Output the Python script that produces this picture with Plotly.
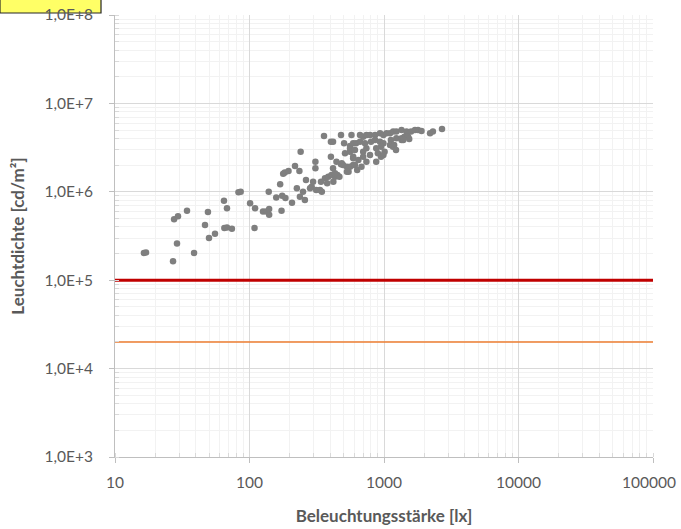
import plotly.graph_objects as go

# measured points: illuminance [lx] and luminance [cd/m²]
lux = [16.4, 17.0, 27, 28.9, 27.5, 29.4, 34.3, 38.7, 46.7, 49.1,
       50, 55.4, 64.6, 68, 65, 68, 74, 82.8, 86, 101,
       110, 109, 126, 133, 140, 140, 139, 158, 169, 173,
       175, 185, 178, 183, 195, 218, 207, 225, 235, 240,
       250, 258, 237, 263, 297, 290, 282, 313, 334, 345,
       340, 364, 385, 407, 432, 450, 378, 420, 466, 309,
       309, 403, 403, 418, 479, 505, 513, 559, 559, 590,
       620, 485, 530, 545, 590, 632, 358, 479, 573, 663,
       700, 740, 787, 858, 934, 990, 1045, 1109, 1170, 1235,
       1350, 1470, 590, 663, 722, 800, 858, 934, 990, 1125,
       1235, 1350, 1420, 559, 608, 700, 740, 875, 950, 1109,
       1190, 590, 700, 787, 645, 740, 875, 900, 443, 496,
       559, 608, 680, 530, 432, 1350, 1510, 1590, 1700, 1790,
       1900, 1540, 2200, 2310, 2700, 1167, 1228, 1010, 950, 990,
       1390, 418]
leuchtdichte = [2.03e5, 2.06e5, 1.64e5, 2.6e5, 4.9e5, 5.3e5, 6.1e5, 2.03e5, 4.2e5, 5.9e5,
                3.0e5, 3.36e5, 7.9e5, 6.5e5, 3.9e5, 3.95e5, 3.83e5, 9.9e5, 1.0e6, 7.4e5,
                6.5e5, 3.9e5, 6.0e5, 6.0e5, 6.4e5, 5.5e5, 1.0e6, 8.6e5, 1.22e6, 6.1e5,
                9.0e5, 8.5e5, 1.6e6, 1.65e6, 1.72e6, 1.96e6, 7.5e5, 1.1e6, 1.72e6, 2.84e6,
                1.0e6, 8.1e5, 8.8e5, 1.36e6, 1.3e6, 1.14e6, 1.1e6, 1.05e6, 1.05e6, 1.0e6,
                1.3e6, 1.42e6, 1.48e6, 1.55e6, 1.48e6, 1.55e6, 1.25e6, 1.3e6, 1.48e6, 2.19e6,
                1.85e6, 3.69e6, 2.49e6, 1.85e6, 2.05e6, 3.54e6, 2.73e6, 3.3e6, 2.84e6, 2.39e6,
                3.54e6, 2.1e6, 1.92e6, 1.69e6, 2.01e6, 1.77e6, 4.28e6, 4.39e6, 4.39e6, 4.39e6,
                4.2e6, 4.39e6, 4.39e6, 4.39e6, 4.6e6, 4.39e6, 4.6e6, 4.6e6, 4.8e6, 4.8e6,
                5.0e6, 4.8e6, 3.54e6, 3.69e6, 3.54e6, 3.69e6, 3.85e6, 3.69e6, 3.54e6, 3.85e6,
                4.03e6, 4.03e6, 4.2e6, 3.1e6, 2.97e6, 2.84e6, 3.1e6, 3.1e6, 3.24e6, 3.38e6,
                3.38e6, 2.49e6, 2.49e6, 2.61e6, 2.29e6, 2.19e6, 2.19e6, 2.73e6, 2.19e6, 2.01e6,
                1.92e6, 2.01e6, 1.92e6, 1.69e6, 1.62e6, 3.85e6, 4.2e6, 4.8e6, 5.0e6, 5.0e6,
                4.87e6, 3.95e6, 4.6e6, 4.8e6, 5.13e6, 3.24e6, 2.97e6, 2.84e6, 2.49e6, 2.61e6,
                3.85e6, 3.69e6]

grenze_rot = 1e5
grenze_orange = 2e4
x_bereich = [10, 100000]

x_ticks = [10, 100, 1000, 10000, 100000]
# last label nudged left with non-breaking spaces so it stays inside the page
x_ticktext = ["10", "100", "1000", "10000", "100000\u00a0\u00a0"]
y_ticks = [1e3, 1e4, 1e5, 1e6, 1e7, 1e8]
y_ticktext = ["1,0E+3", "1,0E+4", "1,0E+5", "1,0E+6", "1,0E+7", "1,0E+8"]

txt = "#595959"
fnt = "Lato"

fig = go.Figure()
fig.add_trace(go.Scatter(x=x_bereich, y=[grenze_orange] * 2, mode="lines",
                         line=dict(color="#ED7D31", width=1.6), hoverinfo="skip"))
fig.add_trace(go.Scatter(x=x_bereich, y=[grenze_rot] * 2, mode="lines",
                         line=dict(color="#C00000", width=3), hoverinfo="skip"))
fig.add_trace(go.Scatter(x=lux, y=leuchtdichte, mode="markers",
                         marker=dict(color="#7F7F7F", size=6.5, line=dict(width=0))))

achse = dict(type="log", showline=True, linecolor="#BFBFBF", linewidth=1,
             ticks="outside", ticklen=5, tickcolor="#BFBFBF",
             gridcolor="#D9D9D9", gridwidth=1, zeroline=False, automargin=False,
             ticklabeloverflow="allow",
             minor=dict(dtick="D1", showgrid=True, gridcolor="#F2F2F2", ticks="inside",
                        ticklen=4, tickcolor="#D9D9D9"),
             tickfont=dict(family=fnt, size=15.5, color=txt))

fig.update_xaxes(achse, range=[1, 5], tickvals=x_ticks, ticktext=x_ticktext,
                 ticklabelstandoff=6,
                 title=dict(text="<b>Beleuchtungsstärke [lx]</b>",
                            font=dict(family=fnt, size=17, color=txt), standoff=20))
fig.update_yaxes(achse, range=[3, 8], tickvals=y_ticks, ticktext=y_ticktext,
                 ticklabelstandoff=13,
                 title=dict(text="<b>Leuchtdichte [cd/m²]</b>",
                            font=dict(family=fnt, size=17, color=txt), standoff=15))

# yellow cell fragment in the upper left corner
fig.add_shape(type="rect", xref="paper", yref="paper", layer="below",
              x0=-0.2138, x1=-0.026, y0=1.0045, y1=1.04,
              fillcolor="#FFFF66", line=dict(color="#262626", width=1.2))

fig.update_layout(width=681, height=529, showlegend=False,
                  margin=dict(l=115, r=28, t=15, b=72),
                  paper_bgcolor="white", plot_bgcolor="white")

# page without default body margin so the figure fills the window
fig.write_html("out.html", config={"displayModeBar": False},
               post_script="document.body.style.margin='0';")
